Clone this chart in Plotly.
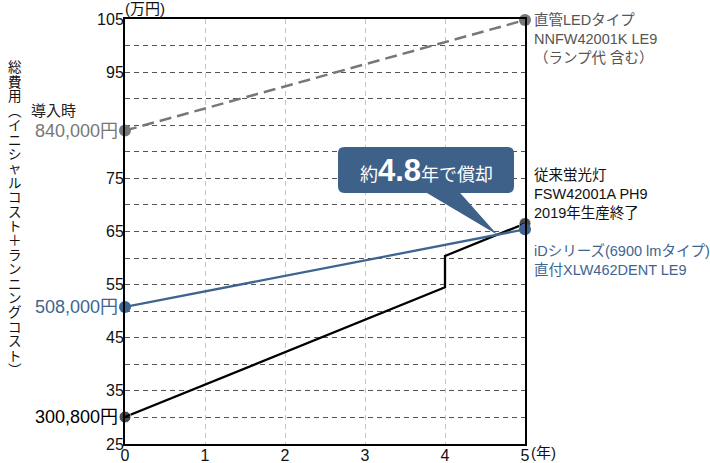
import plotly.graph_objects as go

# costs in 10,000 yen, x in years
years_led = [0, 5]
cost_led = [84.0, 104.8]
years_fl = [0, 4, 4, 5]
cost_fl = [30.08, 54.5, 60.4, 66.5]
years_id = [0, 5]
cost_id = [50.8, 65.4]

x_tickvals = [0, 1, 2, 3, 4, 5]
y_tickvals = [25, 35, 45, 55, 65, 75, 95, 105]

start_labels = ["840,000円", "508,000円", "300,800円"]
ytitle = "総費用︵イニシャルコスト＋ランニングコスト︶"

GREY = "#777777"
BLUE = "#3e6590"
CALLOUT = "#3d6189"
FONT = "Liberation Sans, Noto Sans CJK JP, sans-serif"

fig = go.Figure()
fig.add_scatter(x=years_led, y=cost_led, mode="lines+markers",
                line=dict(color=GREY, width=2.5, dash="12px,6px"),
                marker=dict(size=12, color=GREY), cliponaxis=False)
fig.add_scatter(x=years_fl, y=cost_fl, mode="lines+markers",
                line=dict(color="black", width=2.3),
                marker=dict(size=[12, 0, 0, 12], color="black"), cliponaxis=False)
fig.add_scatter(x=years_id, y=cost_id, mode="lines+markers",
                line=dict(color=BLUE, width=2.3),
                marker=dict(size=12, color=BLUE), cliponaxis=False)

# callout balloon, tip at the break-even point (fluorescent vs iD, after year 4)
s_fl = (cost_fl[3] - cost_fl[2]) / (years_fl[3] - years_fl[2])
s_id = (cost_id[1] - cost_id[0]) / (years_id[1] - years_id[0])
tx = (cost_fl[2] - s_fl * years_fl[2] - cost_id[0]) / (s_id - s_fl)
ty = cost_id[0] + s_id * tx

bx0, bx1, by0, by1 = 2.6625, 4.8625, 72.25, 80.9
ta, tb = 3.775, 4.19
rx, ry = 0.08, 1.2
path = (f"M{bx0+rx},{by1} L{bx1-rx},{by1} Q{bx1},{by1} {bx1},{by1-ry} "
        f"L{bx1},{by0+ry} Q{bx1},{by0} {bx1-rx},{by0} L{tb},{by0} L{tx},{ty} "
        f"L{ta},{by0} L{bx0+rx},{by0} Q{bx0},{by0} {bx0},{by0+ry} "
        f"L{bx0},{by1-ry} Q{bx0},{by1} {bx0+rx},{by1} Z")
fig.add_shape(type="path", path=path, fillcolor=CALLOUT, line_width=0, layer="above")
fig.add_annotation(x=(bx0 + bx1) / 2, y=(by0 + by1) / 2, showarrow=False,
                   text="約<span style='font-size:31px'><b>4.8</b></span>年で償却",
                   font=dict(color="white", size=18, family=FONT))

# start value labels
colors = [GREY, BLUE, "black"]
starts = [cost_led[0], cost_id[0], cost_fl[0]]
for txt, c, v in zip(start_labels, colors, starts):
    fig.add_annotation(x=0, y=v, text=txt, showarrow=False, xanchor="right",
                       xshift=-5, font=dict(color=c, size=18, family=FONT))
fig.add_annotation(x=0, y=cost_led[0], xref="paper", yref="y", text="導入時",
                   showarrow=False, xanchor="left", xshift=-96, yshift=20,
                   font=dict(color="#222", size=15, family=FONT))

# right side labels
fig.add_annotation(x=1, y=(444 - 9) / 425, xref="paper", yref="paper",
                   text="直管LEDタイプ<br>NNFW42001K LE9<br>（ランプ代 含む）",
                   showarrow=False, xanchor="left", yanchor="top", align="left", xshift=7,
                   font=dict(color="#555555", size=14.5, family=FONT))
fig.add_annotation(x=5, y=77.5, text="従来蛍光灯<br>FSW42001A PH9<br>2019年生産終了",
                   showarrow=False, xanchor="left", yanchor="top", align="left", xshift=7,
                   font=dict(color="#111111", size=14.5, family=FONT))
fig.add_annotation(x=5, y=63.3, text="iDシリーズ(6900 lmタイプ)<br>直付XLW462DENT LE9",
                   showarrow=False, xanchor="left", yanchor="top", align="left", xshift=7,
                   font=dict(color=BLUE, size=14.5, family=FONT))

# units
fig.add_annotation(x=0, y=1, xref="paper", yref="paper", text="(万円)", showarrow=False,
                   xanchor="left", yanchor="middle", yshift=11, xshift=-2,
                   font=dict(color="#111", size=15, family=FONT))
fig.add_annotation(x=1, y=0, xref="paper", yref="paper", text="(年)", showarrow=False,
                   xanchor="left", yanchor="middle", yshift=-8, xshift=4,
                   font=dict(color="#111", size=15, family=FONT))

# vertical y title, one character per line (pixel -> paper)
for i, ch in enumerate(ytitle):
    fig.add_annotation(x=0, y=(444 - (68 + 14.4 * i)) / 425, xref="paper", yref="paper",
                       text=ch, showarrow=False, xanchor="center", yanchor="middle",
                       xshift=-110, font=dict(color="#111", size=13.5, family=FONT))

fig.update_xaxes(range=[0, 5], tickvals=x_tickvals, showgrid=True, gridcolor="#c4c4c4",
                 griddash="5px,4px", gridwidth=1, zeroline=False, showline=True,
                 linecolor="black", linewidth=2, mirror=True, automargin=False,
                 ticklabelstandoff=-4,
                 tickfont=dict(size=16, color="#111", family=FONT))
fig.update_yaxes(range=[25, 105], tickvals=y_tickvals, showgrid=True, gridcolor="#555555",
                 griddash="5px,4px", gridwidth=1, zeroline=False, showline=True,
                 linecolor="black", linewidth=2, mirror=True, ticklabelstandoff=-4,
                 automargin=False,
                 minor=dict(dtick=5, tick0=25, showgrid=True, gridcolor="#555555",
                            griddash="5px,4px", gridwidth=1),
                 tickfont=dict(size=16, color="#111", family=FONT))
fig.update_layout(width=710, height=463, showlegend=False,
                  margin=dict(l=125, r=185, t=19, b=19, autoexpand=False),
                  paper_bgcolor="white", plot_bgcolor="white",
                  font=dict(family=FONT))
# drop the default 8px page margin so the figure fills the window
fig.write_html("out.html", config={"displayModeBar": False},
               post_script="document.body.style.margin='0px';")
